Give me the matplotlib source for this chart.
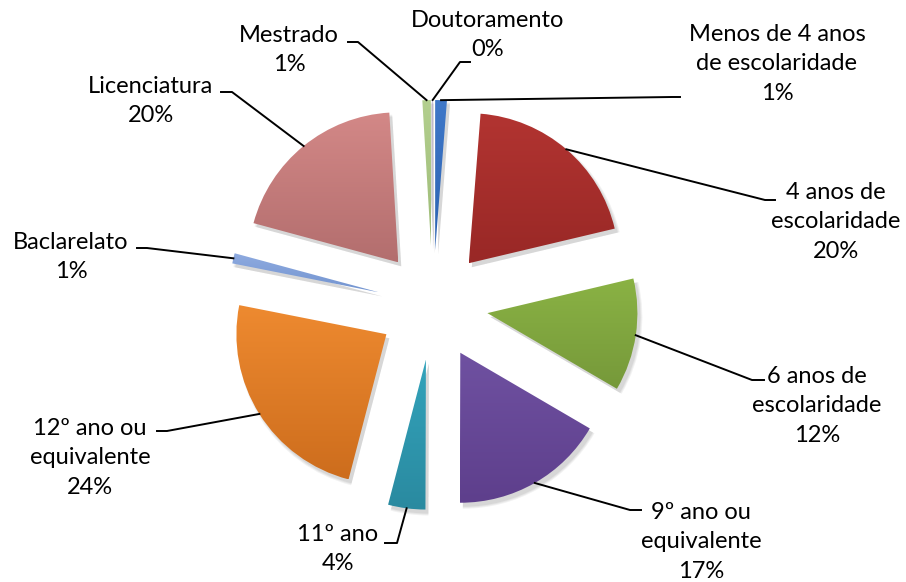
import numpy as np
import matplotlib.pyplot as plt
from matplotlib.patches import Wedge
from matplotlib.colors import to_rgba

# dados (percentagem de cada nível de escolaridade)
categorias = ["Menos de 4 anos\nde escolaridade", "4 anos de\nescolaridade",
              "6 anos de\nescolaridade", "9º ano ou\nequivalente", "11º ano",
              "12º ano ou\nequivalente", "Baclarelato", "Licenciatura",
              "Mestrado", "Doutoramento"]
valores = [1.25, 20.0, 12.1, 16.6, 4.0, 24.0, 1.1, 19.8, 0.9, 0.05]

# cores (topo, base) do gradiente de cada fatia
cores_topo = ["#3f78c8", "#b23431", "#8ab244", "#6f51a1", "#33a3bb",
              "#ee8a30", "#8fabe0", "#d38887", "#b3cf8e", "#a592c4"]
cores_base = ["#2c62b2", "#992826", "#76993a", "#5e3f8c", "#2a8aa0",
              "#cd6d1d", "#7394d0", "#b36e6e", "#9dbb76", "#8b78ad"]

# posição dos rótulos (px da imagem, y para baixo): centro do texto, cotovelo, fim
pos_texto = [(777, 64), (836, 222), (817, 406), (701, 542), (338, 549),
             (90, 458), (71, 257), (151, 101), (289, 50), (488, 35)]
cotovelo = [(672, 97), (765, 200), (752, 380), (630, 510), (397, 543),
            (167, 431), (147, 248), (232, 92), (358, 42), (460, 62)]
fim = [(680, 97), (775, 200), (764, 380), (641, 510), (385, 543),
       (157, 431), (137, 248), (221, 92), (348, 42), (470, 62)]

W, H = 906, 582
plt.rcParams['font.family'] = ['Lato', 'DejaVu Sans']

fig = plt.figure(figsize=(W / 100, H / 100), dpi=100)
ax = fig.add_axes([0, 0, 1, 1])

cx, cy, raio, expl = 433, H - 305, 150, 55
wedges, _ = ax.pie(valores, startangle=90, counterclock=False, radius=raio,
                   center=(cx, cy), explode=[expl] * len(valores),
                   colors=cores_topo, wedgeprops=dict(linewidth=0))

for i, w in enumerate(wedges):
    # sombra suave
    for k, a in enumerate([0.05, 0.05, 0.06]):
        s = Wedge((w.center[0] + 3, w.center[1] - 4), w.r + 2 - k, w.theta1, w.theta2,
                  facecolor='black', alpha=a, linewidth=0, zorder=0.5)
        ax.add_patch(s)
    # gradiente vertical dentro da fatia
    v = w.get_path().vertices
    x0, x1 = v[:, 0].min(), v[:, 0].max()
    y0, y1 = v[:, 1].min(), v[:, 1].max()
    c0 = np.array(to_rgba(cores_base[i]))
    c1 = np.array(to_rgba(cores_topo[i]))
    t = np.linspace(0, 1, 64)[:, None]
    grad = (c0 * (1 - t) + c1 * t)[:, None, :]
    im = ax.imshow(grad, extent=(x0, x1, y0, y1), origin='lower',
                   aspect='auto', zorder=2)
    im.set_clip_path(w)
    w.set_facecolor('none')

# rótulos e linhas de chamada
total = sum(valores)
for i, w in enumerate(wedges):
    ang = np.deg2rad((w.theta1 + w.theta2) / 2)
    sx = w.center[0] + w.r * np.cos(ang)
    sy = w.center[1] + w.r * np.sin(ang)
    ex, ey = cotovelo[i]
    fx, fy = fim[i]
    ax.plot([sx, ex, fx], [sy, H - ey, H - fy], color='black', lw=1.4, zorder=3)
    pct = f"{round(valores[i] / total * 100)}%"
    tx, ty = pos_texto[i]
    ax.text(tx, H - ty, categorias[i] + "\n" + pct, ha='center', va='center',
            multialignment='center', fontsize=17, linespacing=1.52, color='black')

ax.set_xlim(0, W)
ax.set_ylim(0, H)
ax.set_aspect('equal')
ax.axis('off')

fig.savefig('out.png', dpi=100)
